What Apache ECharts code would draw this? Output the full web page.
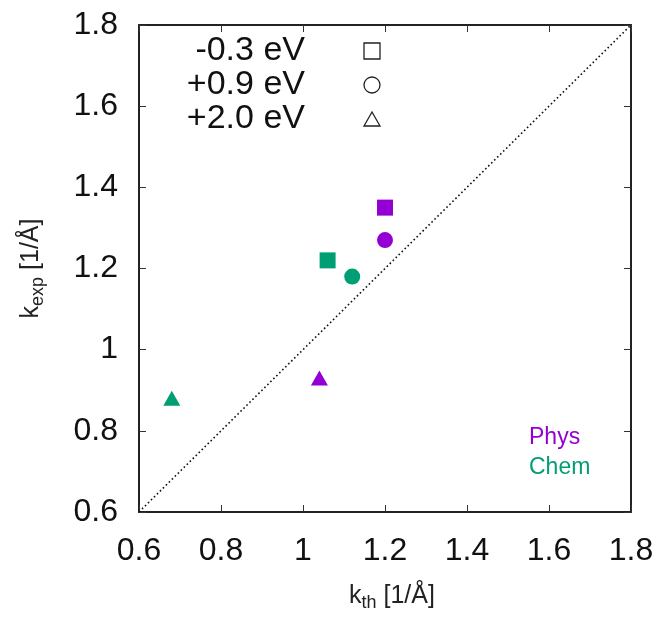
<!DOCTYPE html>
<html><head><meta charset="utf-8">
<script src="https://cdn.jsdelivr.net/npm/echarts@6/dist/echarts.min.js"></script>
<style>html,body{margin:0;padding:0;background:#fff}#c{width:663px;height:617px}</style>
</head><body><div id="c"></div>
<script>
// Data
const groups = ['Phys', 'Chem'];
const energies = ['-0.3 eV', '+0.9 eV', '+2.0 eV'];
const symbols = ['rect', 'circle', 'triangle'];
const physX = [1.20, 1.20, 1.04];
const physY = [1.35, 1.27, 0.93];
const chemX = [1.06, 1.12, 0.68];
const chemY = [1.22, 1.18, 0.88];
const diagX = [0.6, 1.8];
const diagY = [0.6, 1.8];
const axisMin = 0.6, axisMax = 1.8, axisStep = 0.2;

const colors = { Phys: '#9400D3', Chem: '#009E73' };
const FONT = "'Liberation Sans', Arial, sans-serif";
const symSize = { rect: 16, circle: 16, triangle: [17, 15] };

function pts(xs, ys) {
  return xs.map((x, i) => ({ value: [x, ys[i]], symbol: symbols[i], symbolSize: symSize[symbols[i]] }));
}

const chart = echarts.init(document.getElementById('c'), null, { renderer: 'canvas' });

const axisLineStyle = { color: '#222', width: 2 };
function mkX(pos, showLabel) {
  return {
    type: 'value', position: pos, min: axisMin, max: axisMax, interval: axisStep,
    axisLine: { show: true, onZero: false, lineStyle: axisLineStyle },
    axisTick: { show: true, inside: true, length: 7, lineStyle: { color: '#333', width: 1 } },
    splitLine: { show: false },
    axisLabel: { show: showLabel, color: '#111', fontSize: 32, fontFamily: FONT, margin: 23 },
  };
}
function mkY(pos, showLabel) {
  return {
    type: 'value', position: pos, min: axisMin, max: axisMax, interval: axisStep,
    axisLine: { show: true, onZero: false, lineStyle: axisLineStyle },
    axisTick: { show: true, inside: true, length: 7, lineStyle: { color: '#333', width: 1 } },
    splitLine: { show: false },
    axisLabel: { show: showLabel, color: '#111', fontSize: 32, fontFamily: FONT, margin: 21 },
  };
}
const richName = {
  a: { fontSize: 25, fontFamily: FONT, color: '#222', lineHeight: 32 },
  s: { fontSize: 18, fontFamily: FONT, color: '#222', verticalAlign: 'bottom', lineHeight: 32 }
};
const xMain = mkX('bottom', true);
xMain.name = '{a|k}{s|th}{a| [1/Å]}';
xMain.nameLocation = 'middle';
xMain.nameGap = 68;
xMain.nameTextStyle = { rich: richName, padding: [0, 0, 0, 14] };
const yMain = mkY('left', true);
yMain.name = '{a|k}{s|exp}{a| [1/Å]}';
yMain.nameLocation = 'middle';
yMain.nameGap = 92;
yMain.nameRotate = 90;
yMain.nameTextStyle = { rich: richName };

const legendGraphics = [];
const legY = [51, 85, 119];
energies.forEach((t, i) => {
  legendGraphics.push({ type: 'text', right: 663 - 305, top: legY[i] - 17,
    style: { text: t, fontSize: 34, fontFamily: FONT, fill: '#111' } });
});
legendGraphics.push({ type: 'rect', shape: { x: 364, y: 43, width: 16, height: 16 }, style: { fill: 'none', stroke: '#222', lineWidth: 1.3 } });
legendGraphics.push({ type: 'circle', shape: { cx: 372, cy: 85, r: 8 }, style: { fill: 'none', stroke: '#222', lineWidth: 1.3 } });
legendGraphics.push({ type: 'polygon', shape: { points: [[364, 126], [380, 126], [372, 112]] }, style: { fill: 'none', stroke: '#222', lineWidth: 1.3 } });
legendGraphics.push({ type: 'text', left: 529, top: 426, style: { text: groups[0], fontSize: 23, fontFamily: FONT, fill: colors.Phys } });
legendGraphics.push({ type: 'text', left: 529, top: 456, style: { text: groups[1], fontSize: 23, fontFamily: FONT, fill: colors.Chem } });

chart.setOption({
  animation: false,
  backgroundColor: '#fff',
  grid: { left: 139, top: 25, right: 32, bottom: 99, containLabel: false },
  xAxis: [xMain, mkX('top', false)],
  yAxis: [yMain, mkY('right', false)],
  graphic: legendGraphics,
  series: [
    { type: 'line', data: diagX.map((x, i) => [x, diagY[i]]), symbol: 'none', silent: true,
      lineStyle: { color: '#111', width: 1.6, type: [1.6, 2.6] }, z: 1 },
    { name: groups[0], type: 'scatter', data: pts(physX, physY), itemStyle: { color: colors.Phys, opacity: 1 }, z: 3 },
    { name: groups[1], type: 'scatter', data: pts(chemX, chemY), itemStyle: { color: colors.Chem, opacity: 1 }, z: 3 },
  ]
});
</script></body></html>
